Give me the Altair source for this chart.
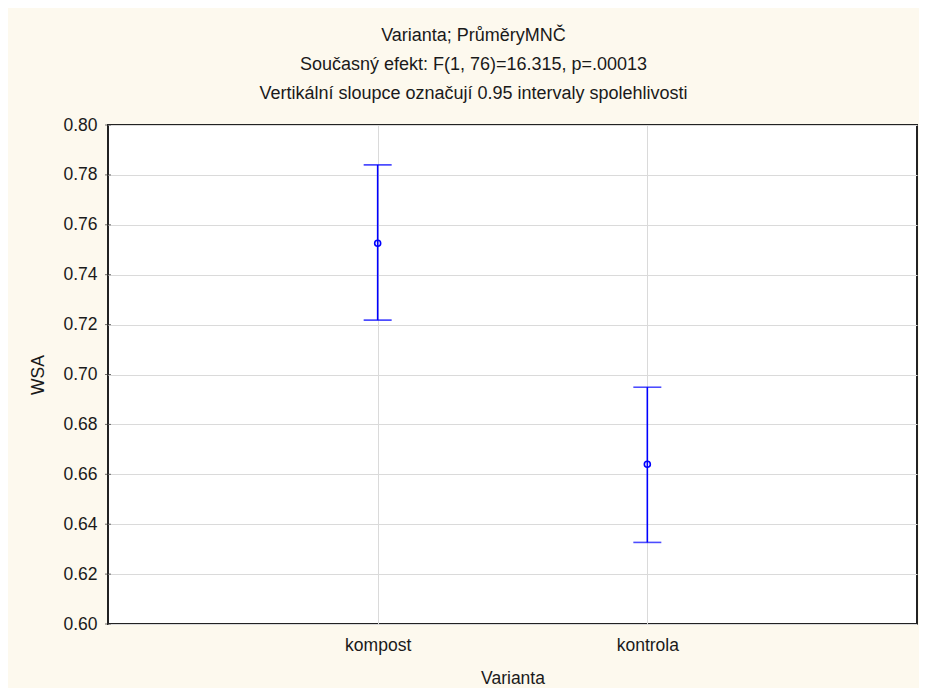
import altair as alt
import pandas as pd

categories = ["kompost", "kontrola"]
means = [0.7526, 0.6640]
lower = [0.7218, 0.6327]
upper = [0.7840, 0.6949]
y_ticks = [0.60, 0.62, 0.64, 0.66, 0.68, 0.70, 0.72, 0.74, 0.76, 0.78, 0.80]

df = pd.DataFrame({"Varianta": categories, "WSA": means, "lo": lower, "hi": upper})
ticks_df = pd.DataFrame({"WSA": y_ticks})
cat_df = pd.DataFrame({"Varianta": categories})

FONT = "Liberation Sans"
BLUE = "#0000ff"
TXT = "#1a1a1a"

xscale = alt.Scale(type="point", padding=1, domain=categories)
yscale = alt.Scale(domain=[0.6, 0.8], nice=False, zero=False)

x_enc = alt.X("Varianta:N", scale=xscale, sort=categories,
              axis=alt.Axis(title="Varianta", labelAngle=0, ticks=False, domain=False,
                            grid=True, gridColor="#dadada", gridWidth=1,
                            labelPadding=12, titlePadding=16))
y_axis = alt.Axis(title="WSA", values=y_ticks, format=".2f", ticks=False, domain=False,
                  grid=True, gridColor="#dadada", gridWidth=1,
                  labelPadding=11, titlePadding=15)

base = alt.Chart(df)

rules = base.mark_rule(color=BLUE, strokeWidth=1.6).encode(
    x=x_enc,
    y=alt.Y("lo:Q", scale=yscale, axis=y_axis),
    y2="hi:Q",
)
cap_hi = base.mark_tick(color=BLUE, thickness=1.6, size=28).encode(
    x=alt.X("Varianta:N", scale=xscale, sort=categories),
    y=alt.Y("hi:Q", scale=yscale),
)
cap_lo = base.mark_tick(color=BLUE, thickness=1.6, size=28).encode(
    x=alt.X("Varianta:N", scale=xscale, sort=categories),
    y=alt.Y("lo:Q", scale=yscale),
)
pts = base.mark_point(color=BLUE, filled=False, size=36, strokeWidth=1.6, opacity=1).encode(
    x=alt.X("Varianta:N", scale=xscale, sort=categories),
    y=alt.Y("WSA:Q", scale=yscale),
)
ytick_marks = alt.Chart(ticks_df).mark_tick(color="#333333", thickness=1, size=6).encode(
    y=alt.Y("WSA:Q", scale=yscale),
    x=alt.value(0),
)
xtick_marks = alt.Chart(cat_df).mark_tick(color="#333333", thickness=1, size=6).encode(
    x=alt.X("Varianta:N", scale=xscale, sort=categories),
    y=alt.value(499),
)

chart = alt.layer(rules, cap_hi, cap_lo, pts, ytick_marks, xtick_marks).properties(
    width=809,
    height=499,
    autosize=alt.AutoSizeParams(type="none"),
    padding={"left": 100, "top": 117, "right": 2, "bottom": 64},
    background="#fdf9ee",
    title=alt.Title(
        ["Varianta; PrůměryMNČ",
         "Současný efekt: F(1, 76)=16.315, p=.00013",
         "Vertikální sloupce označují 0.95 intervaly spolehlivosti"],
        fontSize=18, font=FONT, fontWeight="normal", color=TXT,
        lineHeight=29, anchor="middle", dx=-39, offset=13,
    ),
).configure_view(
    fill="white", stroke="#222222", strokeWidth=2
).configure_axis(
    labelFont=FONT, titleFont=FONT, labelFontSize=17.5, titleFontSize=17.5,
    labelColor=TXT, titleColor=TXT, titleFontWeight="normal"
)

chart.save("out.html", embed_options={"renderer": "svg", "actions": False})
